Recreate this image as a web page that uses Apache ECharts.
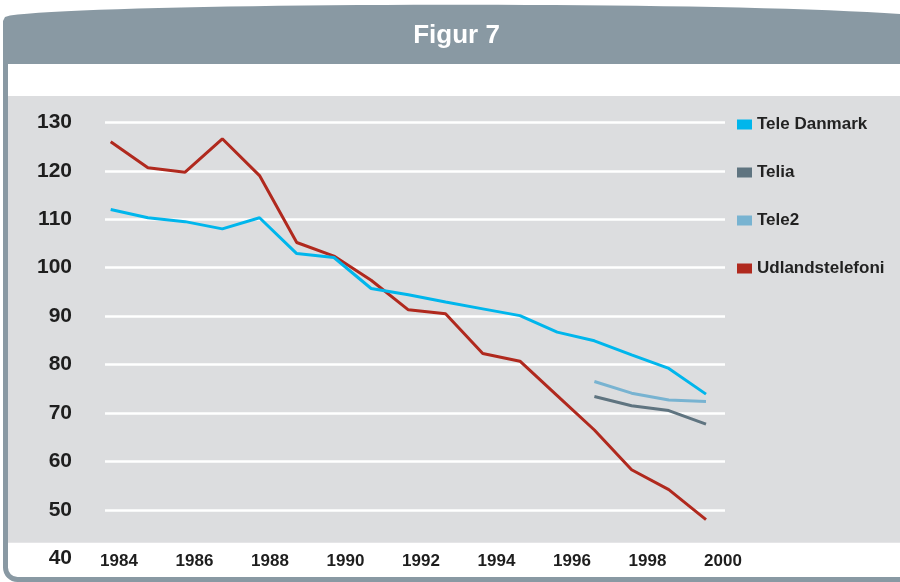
<!DOCTYPE html>
<html>
<head>
<meta charset="utf-8">
<script src="https://cdn.jsdelivr.net/npm/echarts@6/dist/echarts.min.js"></script>
<style>
  html, body { margin: 0; padding: 0; background: #fff; }
  #chart { width: 900px; height: 582px; }
</style>
</head>
<body>
<div id="chart"></div>
<script>
// år (x-akse)
const years = ['1984', '1985', '1986', '1987', '1988', '1989', '1990', '1991', '1992',
  '1993', '1994', '1995', '1996', '1997', '1998', '1999', '2000']

// serier
const teleDanmark = [112.0, 110.3, 109.5, 108.0, 110.3, 102.9, 102.1, 95.7, 94.4,
  92.9, 91.5, 90.1, 86.7, 84.9, 82.0, 79.2, 73.9]
const telia = [null, null, null, null, null, null, null, null, null,
  null, null, null, null, 73.4, 71.5, 70.5, 67.7]
const tele2 = [null, null, null, null, null, null, null, null, null,
  null, null, null, null, 76.5, 74.1, 72.7, 72.4]
const udland = [126.0, 120.6, 119.7, 126.6, 119.0, 105.2, 102.4, 97.4, 91.3,
  90.5, 82.3, 80.7, 73.6, 66.5, 58.3, 54.2, 48.0]

const seriesNames = ['Tele Danmark', 'Telia', 'Tele2', 'Udlandstelefoni']
const seriesColors = ['#00b6ec', '#5f7480', '#78b3d1', '#b0291e']
const seriesData = [teleDanmark, telia, tele2, udland]

const frameColor = '#8999a3'
const plotBg = '#dcdddf'
const fontSans = '"Liberation Sans", Arial, sans-serif'

// buet overkant på hovedet (kubisk kurve, samplet)
function headerPoints() {
  const p0 = [10, 15.5], p1 = [100, 3], p2 = [700, 0], p3 = [900, 14]
  const pts = [[3, 64], [3, 21], [5, 17]]
  for (let k = 0; k <= 40; k++) {
    const t = k / 40, u = 1 - t
    pts.push([
      u * u * u * p0[0] + 3 * u * u * t * p1[0] + 3 * u * t * t * p2[0] + t * t * t * p3[0],
      u * u * u * p0[1] + 3 * u * u * t * p1[1] + 3 * u * t * t * p2[1] + t * t * t * p3[1]
    ])
  }
  pts.push([900, 64])
  return pts
}

const chart = echarts.init(document.getElementById('chart'))

const yBase = { type: 'value', min: 40, max: 130, interval: 10 }

chart.setOption({
  animation: false,
  graphic: [
    // ramme
    {
      type: 'rect', z: -20,
      shape: { x: 5.5, y: 30, width: 940, height: 549.5, r: [0, 0, 0, 12] },
      style: { fill: '#ffffff', stroke: frameColor, lineWidth: 5 }
    },
    // grå baggrund
    {
      type: 'rect', z: -15,
      shape: { x: 8, y: 96, width: 892, height: 446.7 },
      style: { fill: plotBg }
    },
    // hoved
    {
      type: 'polygon', z: -10,
      shape: { points: headerPoints() },
      style: { fill: frameColor }
    },
    {
      type: 'text', z: -5, x: 456.5, y: 35.5,
      style: {
        text: 'Figur 7', fill: '#ffffff',
        align: 'center', verticalAlign: 'middle',
        font: 'bold 26px ' + fontSans
      }
    }
  ],
  legend: {
    data: seriesNames,
    orient: 'vertical',
    left: 732,
    top: 109.5,
    icon: 'rect',
    itemWidth: 15,
    itemHeight: 10,
    itemGap: 28,
    textStyle: {
      fontFamily: fontSans,
      fontWeight: 'bold',
      fontSize: 17,
      lineHeight: 20,
      color: '#222222'
    }
  },
  grid: [
    { left: 105, right: 175, top: 122.3, bottom: 23.6 },
    { left: 110.7, right: 194, top: 122.3, bottom: 23.6 },
    { left: 119, right: 177, top: 122.3, bottom: 23.6 }
  ],
  xAxis: [
    { type: 'category', gridIndex: 0, data: years, show: false },
    { type: 'category', gridIndex: 1, data: years, boundaryGap: false, show: false },
    {
      type: 'category', gridIndex: 2, data: years, boundaryGap: false,
      axisLine: { show: false },
      axisTick: { show: false },
      splitLine: { show: false },
      axisLabel: {
        interval: 1,
        margin: 3,
        verticalAlign: 'middle',
        fontFamily: fontSans,
        fontWeight: 'bold',
        fontSize: 17,
        color: '#1e1e1e'
      }
    }
  ],
  yAxis: [
    Object.assign({}, yBase, {
      gridIndex: 0,
      axisLine: { show: false },
      axisTick: { show: false },
      splitLine: { show: true, lineStyle: { color: '#ffffff', width: 2.5 } },
      axisLabel: {
        margin: 33,
        fontFamily: fontSans,
        fontWeight: 'bold',
        fontSize: 21,
        color: '#1e1e1e'
      }
    }),
    Object.assign({}, yBase, { gridIndex: 1, show: false }),
    Object.assign({}, yBase, { gridIndex: 2, show: false })
  ],
  series: seriesNames.map((name, i) => ({
    name: name,
    type: 'line',
    xAxisIndex: 1,
    yAxisIndex: 1,
    data: seriesData[i],
    symbol: 'none',
    color: seriesColors[i],
    lineStyle: { width: 3, color: seriesColors[i] },
    z: i === 0 ? 3 : 2
  }))
})
</script>
</body>
</html>
